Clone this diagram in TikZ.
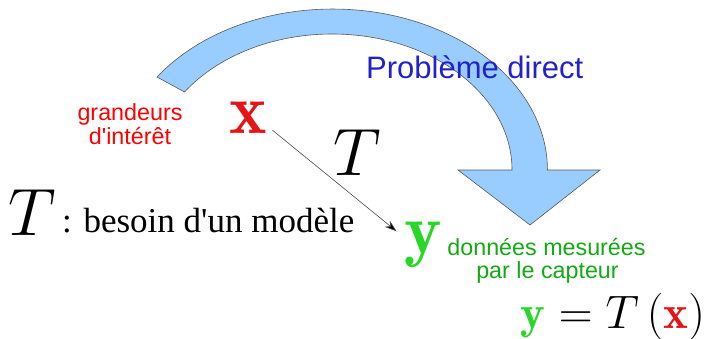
\RequirePackage{fix-cm}
\documentclass[tikz,border=0pt]{standalone}
\usepackage{fontspec}
\newfontfamily\sansfnt{Liberation Sans}
\newfontfamily\seriffnt{Liberation Serif}
\usetikzlibrary{arrows.meta}
\definecolor{arcblue}{RGB}{153,204,255}
\definecolor{pdblue}{RGB}{34,34,204}
\definecolor{xred}{RGB}{230,20,20}
\definecolor{ygreen}{RGB}{40,215,40}
\definecolor{txtgreen}{RGB}{20,170,20}
\tikzset{
  lbl/.style={inner sep=0pt, anchor=base},
  bigsym/.style={lbl, font=\fontsize{67}{70}\selectfont},
  bigbold/.style={lbl, font=\fontsize{71}{74}\selectfont},
  smalllbl/.style={lbl, font=\sansfnt\fontsize{23.3}{24}\selectfont},
}
\begin{document}
\begin{tikzpicture}[x=1pt,y=-1pt]
\useasboundingbox (0,0) rectangle (708,338);
% big curved arrow
\draw[fill=arcblue, draw=black!65, line width=0.6pt, line join=miter]
  (157,77) arc[start angle=215.3, end angle=360, x radius=215, y radius=161]
  -- (600,170) -- (530,225) -- (458,170) -- (512,170)
  arc[start angle=360, end angle=215, x radius=180, y radius=136] -- cycle;
\node[lbl, anchor=base west, font=\sansfnt\fontsize{31}{34}\selectfont, text=pdblue] (pd) at (366,78) {Problème direct};
% labels
\node[smalllbl, text=red] (g1) at (130,120) {grandeurs};
\node[smalllbl, text=red] (g2) at (130,144) {d'intérêt};
\node[bigbold, text=xred] (X) at (248.5,133) {$\mathbf{x}$};
\node[bigsym] (Tm) at (357,175) {$T$};
\node[bigsym, anchor=base west] (Tl) at (8,235) {$T$};
\node[lbl, anchor=base west, font=\seriffnt\fontsize{35}{38}\selectfont] (bes) at (62,232) {: besoin d'un modèle};
\node[bigbold, text=ygreen] (Y) at (423.5,253) {$\mathbf{y}$};
\node[smalllbl, text=txtgreen] (d1) at (546.5,255) {données mesurées};
\node[smalllbl, text=txtgreen] (d2) at (547.5,278) {par le capteur};
\node[lbl, font=\fontsize{47}{50}\selectfont] (eq) at (613,328)
  {$\color{ygreen}\mathbf{y}\color{black} = T\left(\color{xred}\mathbf{x}\color{black}\right)$};
% model arrow
\draw[black!70, line width=0.6pt, -{Stealth[length=12pt,width=8pt,fill=black]}]
  ([shift={(5,-3)}]X.south east) -- ([shift={(-8,10)}]Y.north west);
\end{tikzpicture}
\end{document}
